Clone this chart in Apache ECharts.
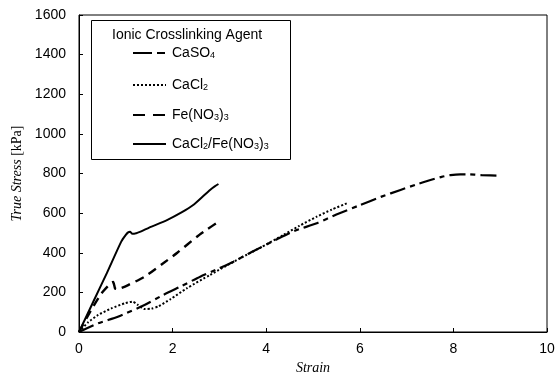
<!DOCTYPE html>
<html>
<head>
<meta charset="utf-8">
<script src="https://cdn.jsdelivr.net/npm/echarts@6/dist/echarts.min.js"></script>
<style>html,body{margin:0;padding:0;background:#fff;}#chart{width:559px;height:376px;}</style>
</head>
<body>
<div id="chart"></div>
<script>
// Strain / True Stress [kPa] data
var caso4Strain = [0, 0.41, 0.83, 1.4, 1.8, 2.2, 2.59, 3.0, 3.3, 3.7, 4.23, 4.6, 5.08, 5.5, 6.01, 6.45, 6.87, 7.2, 7.51, 7.75, 7.94, 8.15, 8.3, 8.6, 9.0];
var caso4Stress = [0, 44, 77, 136, 187, 233, 279, 322, 355, 405, 468, 510, 549, 593, 641, 682, 717, 744, 767, 783, 792, 796, 796, 792, 789];

var cacl2Strain = [0, 0.2, 0.41, 0.69, 0.98, 1.15, 1.25, 1.4, 1.55, 1.7, 1.95, 2.3, 2.8, 3.44, 3.87, 4.37, 4.7, 5.08, 5.4, 5.73];
var cacl2Stress = [0, 50, 86, 119, 145, 153, 138, 116, 118, 130, 165, 220, 288, 372, 425, 490, 535, 582, 618, 650];

var feStrain = [0, 0.26, 0.48, 0.69, 0.73, 0.77, 0.8, 0.9, 1.05, 1.4, 1.8, 2.1, 2.52, 2.75, 2.94];
var feStress = [0, 111, 195, 249, 252, 220, 217, 222, 237, 279, 347, 400, 481, 520, 550];

var mixStrain = [0, 0.3, 0.6, 0.9, 1.0, 1.05, 1.09, 1.13, 1.18, 1.3, 1.5, 1.88, 2.2, 2.44, 2.65, 2.8, 2.9, 2.98];
var mixStress = [0, 150, 300, 455, 490, 503, 506, 497, 496, 505, 527, 565, 605, 641, 685, 717, 735, 747];

var xTicks = [0, 2, 4, 6, 8, 10];
var yTicks = [0, 200, 400, 600, 800, 1000, 1200, 1400, 1600];

var legendTitle = 'Ionic Crosslinking Agent';
var seriesNames = ['CaSO{s|4}', 'CaCl{s|2}', 'Fe(NO{s|3}){s|3}', 'CaCl{s|2}/Fe(NO{s|3}){s|3}'];
var seriesIds = ['CaSO4', 'CaCl2', 'Fe(NO3)3', 'CaCl2/Fe(NO3)3'];

function pairs(xs, ys) { return xs.map(function (x, i) { return [x, ys[i]]; }); }

var styles = [
  { type: [16, 5, 5, 5], width: 2.2 },
  { type: [2, 2], width: 2 },
  { type: [9, 6], width: 2.4 },
  { type: 'solid', width: 2 }
];
var datasets = [pairs(caso4Strain, caso4Stress), pairs(cacl2Strain, cacl2Stress), pairs(feStrain, feStress), pairs(mixStrain, mixStress)];

var series = datasets.map(function (d, i) {
  return {
    name: seriesIds[i], type: 'line', data: d, showSymbol: false, symbol: 'none', smooth: 0.2,
    lineStyle: { color: '#000', width: styles[i].width, type: styles[i].type },
    animation: false
  };
});

var rich = { s: { fontSize: 9, fontFamily: 'Liberation Sans', verticalAlign: 'bottom', padding: [6, 0, 0, 0], color: '#000' } };
var legendY = [53, 85, 115, 144];
var legendDash = [[19, 5, 8, 100], [2, 2], [12, 8], null];
var legendGraphics = [
  { type: 'rect', left: 91, top: 20, shape: { width: 199, height: 139 }, style: { fill: '#fff', stroke: '#000', lineWidth: 1 }, z: 10 },
  { type: 'text', left: 112, top: 28, style: { text: legendTitle, fontSize: 14, fontFamily: 'Liberation Sans', fill: '#000' }, z: 11 }
];
legendY.forEach(function (y, i) {
  legendGraphics.push({ type: 'line', shape: { x1: 133, y1: y, x2: 166, y2: y }, style: { stroke: '#000', lineWidth: 2.2, lineDash: legendDash[i] }, z: 11 });
  legendGraphics.push({ type: 'text', x: 172, y: y, style: { text: seriesNames[i], rich: rich, fontSize: 14, fontFamily: 'Liberation Sans', fill: '#000', verticalAlign: 'middle' }, z: 11 });
});

var chart = echarts.init(document.getElementById('chart'), null, { renderer: 'canvas' });
chart.setOption({
  animation: false,
  backgroundColor: '#fff',
  grid: { left: 79, right: 12, top: 15, bottom: 44, show: true, borderColor: '#000', borderWidth: 1, backgroundColor: 'transparent', outerBoundsMode: 'none', containLabel: false },
  xAxis: {
    type: 'value', min: xTicks[0], max: xTicks[xTicks.length - 1], interval: 2,
    name: 'Strain', nameLocation: 'middle', nameGap: 27,
    nameTextStyle: { fontFamily: 'Liberation Serif', fontStyle: 'italic', fontSize: 14, color: '#000' },
    axisLine: { lineStyle: { color: '#000', width: 1 } },
    axisTick: { inside: true, length: 4, lineStyle: { color: '#000' } },
    axisLabel: { margin: 10, fontFamily: 'Liberation Sans', fontSize: 14, color: '#000', formatter: function (v) { return String(v); } },
    splitLine: { show: false }
  },
  yAxis: {
    type: 'value', min: yTicks[0], max: yTicks[yTicks.length - 1], interval: 200,
    name: '{i|True Stress} [kPa]', nameLocation: 'middle', nameGap: 50,
    nameTextStyle: { fontFamily: 'Liberation Serif', fontSize: 14, color: '#000',
      rich: { i: { fontFamily: 'Liberation Serif', fontStyle: 'italic', fontSize: 14, color: '#000' } } },
    axisLine: { show: true, lineStyle: { color: '#000', width: 1 } },
    axisTick: { show: true, inside: true, length: 4, lineStyle: { color: '#000' } },
    axisLabel: { margin: 13, fontFamily: 'Liberation Sans', fontSize: 14, color: '#000', formatter: function (v) { return String(v); } },
    splitLine: { show: false }
  },
  series: series,
  graphic: legendGraphics
});
</script>
</body>
</html>
